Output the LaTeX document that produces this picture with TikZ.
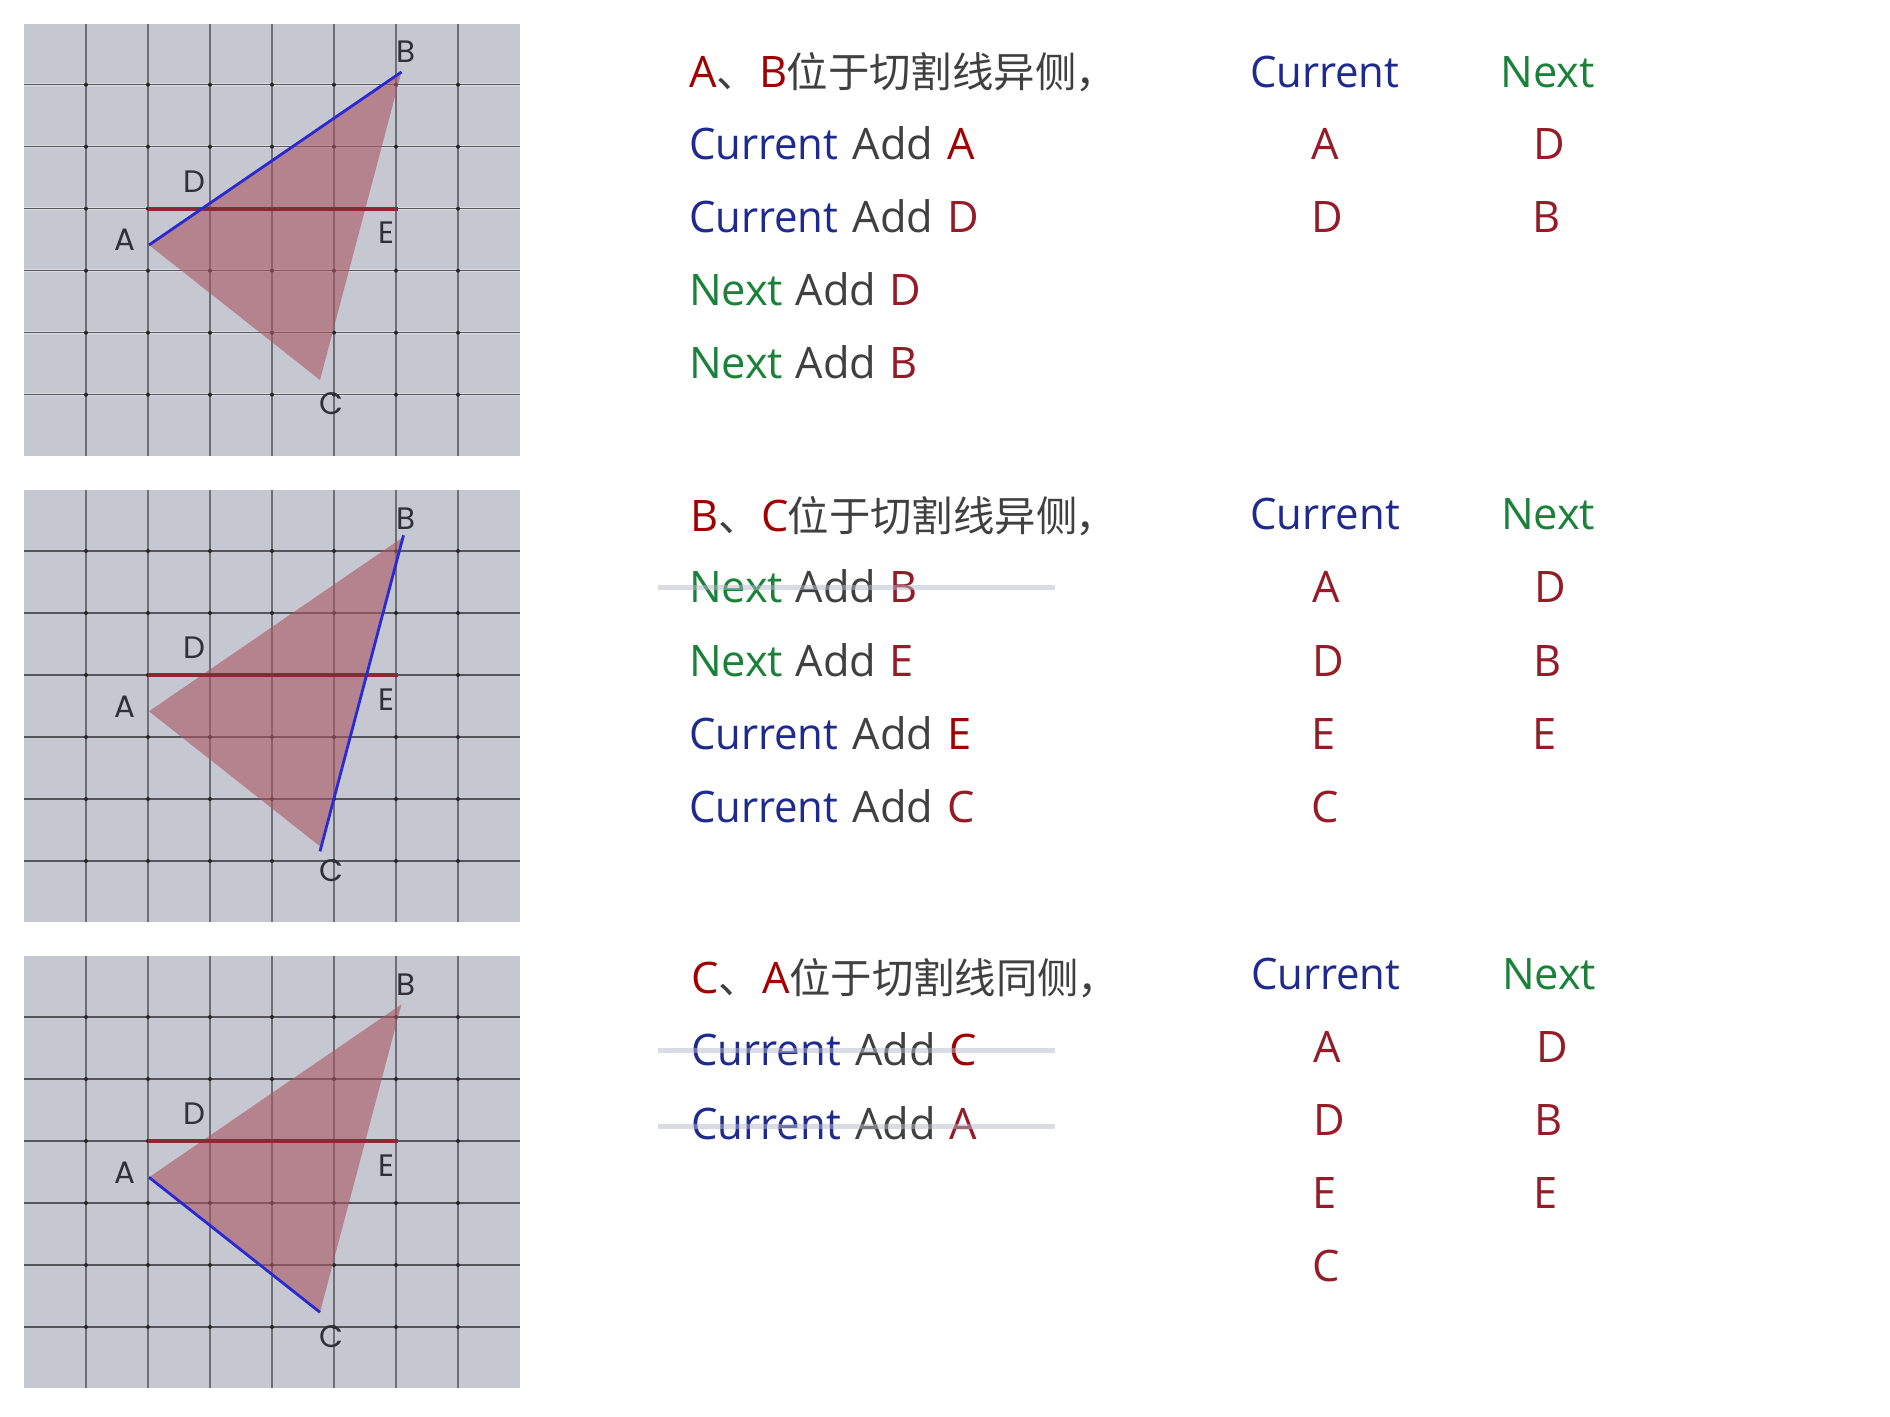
\documentclass[tikz,border=0pt]{standalone}
\usetikzlibrary{calc}
\usepackage{fontspec}
\setmainfont[WordSpace=1.25]{Open Sans}
\newfontfamily\cuf[FakeStretch=0.965,WordSpace=1.25]{Open Sans}
\newfontfamily\cjk{Noto Sans CJK SC}
\newfontfamily\lab{Poppins}
\definecolor{curblue}{HTML}{1F2A8E}
\definecolor{nxtgreen}{HTML}{1A8238}
\definecolor{txtgray}{HTML}{404040}
\definecolor{brightred}{HTML}{A00000}
\definecolor{darkred}{HTML}{951C27}
\definecolor{panelbg}{HTML}{C5C8D0}
\definecolor{gridhalo}{HTML}{DCDDE2}
\definecolor{griddark}{HTML}{55565B}
\definecolor{gridvert}{HTML}{6E6F75}
\definecolor{trifill}{HTML}{A95562}
\definecolor{cutred}{HTML}{8B2A35}
\definecolor{edgeblue}{HTML}{2A2AD2}
\definecolor{strike}{HTML}{B3B7CB}
\definecolor{labgray}{HTML}{2F3038}
\tikzset{
  x=0.5pt,y=-0.5pt,
  txt/.style={anchor=base west,inner sep=0pt,outer sep=0pt,text=txtgray,font=\fontsize{21.7pt}{25pt}\selectfont},
  col/.style={anchor=base,inner sep=0pt,outer sep=0pt,text=darkred,font=\fontsize{21.7pt}{25pt}\selectfont},
  ptlabel/.style={inner sep=0pt,outer sep=0pt,text=labgray,font=\fontsize{15.5pt}{17pt}\selectfont\lab},
  halo/.style={draw=gridhalo,line width=1.4pt},
  gridline/.style={draw=griddark,line width=0.55pt},
  gridvline/.style={draw=gridvert,line width=0.55pt},
  cutline/.style={draw=cutred,line width=2pt},
  edgeline/.style={draw=edgeblue,line width=1.4pt},
  strikeout/.style={draw=strike,line width=2.5pt,opacity=.5},
}
\newcommand{\Cu}{\textcolor{curblue}{\cuf Current}}
\newcommand{\Nx}{\textcolor{nxtgreen}{Next}}
\newcommand{\Br}[1]{\textcolor{brightred}{#1}}
\newcommand{\Dr}[1]{\textcolor{darkred}{#1}}
\newcommand{\Cj}[1]{{\cjk\fontsize{20.7pt}{25pt}\selectfont #1}}
\newcommand{\NxAdd}{\Nx\hspace{-0.8pt} Add\hspace{-0.6pt} }
\newcommand{\panel}[1]{%
  \begin{scope}[shift={(0,#1)}]
    \fill[panelbg] (24,24) rectangle (519.6,455.7);
    \foreach \gx in {86,148,210,272,334,396,458}{
      \draw[halo] (\gx,24) -- (\gx,455.7);
      \draw[gridvline] (\gx,24) -- (\gx,455.7);}
    \foreach \gy in {84.7,146.7,208.7,270.7,332.7,394.7}{
      \draw[halo] (24,\gy) -- (519.6,\gy);
      \draw[gridline] (24,\gy) -- (519.6,\gy);}
    \foreach \gx in {86,148,210,272,334,396,458}
      \foreach \gy in {84.7,146.7,208.7,270.7,332.7,394.7}
        \fill[black!85] (\gx,\gy) circle (1pt);
    \coordinate (pA) at (149,245);
    \coordinate (pB) at (401.5,72);
    \coordinate (pC) at (320,380);
    \coordinate (pD) at (147.5,208.7);
    \coordinate (pE) at (397.5,208.7);
    \fill[trifill,opacity=.6] (pA) -- (pB) -- (pC) -- cycle;
    \draw[cutline] (pD) -- (pE);
    \node[ptlabel] (lA#1) at (124.5,240) {A};
    \node[ptlabel] (lB#1) at (405.5,52) {B};
    \node[ptlabel] (lD#1) at (194,181.5) {D};
    \node[ptlabel] (lE#1) at (386.5,233) {E};
    \node[ptlabel] (lC#1) at (331.5,404) {C};
  \end{scope}}
\begin{document}
\begin{tikzpicture}
\useasboundingbox (0,0) rectangle (1890,1417);
\panel{0}
\draw[edgeline] (pA) -- (pB);
\panel{466.3}
\draw[edgeline] ($(pB)+(2,-3)$) -- ($(pC)+(0,5)$);
\panel{932.3}
\draw[edgeline] (pC) -- (pA);

% group 1
\node[txt] (h1) at (689,87.7) {\Br{A}\Cj{、}\hspace{1pt}\Br{B}\hspace{-0.6pt}\Cj{位于切割线异侧\hspace{-0.8pt}，}};
\node[txt] (r11) at (689,160) {\Cu{} Add \Br{A}};
\node[txt] (r12) at (689,232.9) {\Cu{} Add \Dr{D}};
\node[txt] (r13) at (689,306) {\NxAdd\Dr{D}};
\node[txt] (r14) at (689,379) {\NxAdd\Dr{B}};
\node[txt] (c1) at (1250,87.7) {\Cu};
\node[txt] (n1) at (1500.7,87.7) {\Nx};
\node[col] (c11) at (1325,160) {A};
\node[col] (c12) at (1327.5,232.9) {D};
\node[col] (n11) at (1549.5,160) {D};
\node[col] (n12) at (1546.5,232.9) {B};

% group 2
\node[txt] (h2) at (690,531.5) {\Br{B}\Cj{、}\hspace{1pt}\Br{C}\hspace{-0.6pt}\Cj{位于切割线异侧\hspace{-0.8pt}，}};
\node[txt] (r21) at (689,602.7) {\NxAdd\Dr{B}};
\node[txt] (r22) at (689,676) {\NxAdd\Dr{E}};
\node[txt] (r23) at (689,749) {\Cu{} Add \Br{E}};
\node[txt] (r24) at (689,822.3) {\Cu{} Add \Dr{C}};
\node[txt] (c2) at (1250.5,530) {\Cu};
\node[txt] (n2) at (1501,530) {\Nx};
\node[col] (c21) at (1326.6,602.7) {A};
\node[col] (c22) at (1328,676) {D};
\node[col] (c23) at (1323.5,749) {E};
\node[col] (c24) at (1325.5,822.3) {C};
\node[col] (n21) at (1550.8,602.7) {D};
\node[col] (n22) at (1547.5,676) {B};
\node[col] (n23) at (1544.5,749) {E};
\draw[strikeout] (658,587) -- (1055,587);

% group 3
\node[txt] (h3) at (691.5,993) {\Br{C}\Cj{、}\hspace{1pt}\Br{A}\hspace{-0.2pt}\Cj{位于切割线同侧\hspace{-0.8pt}，}};
\node[txt] (r31) at (691.5,1065.7) {\Cu{} Add \Br{C}};
\node[txt] (r32) at (691.5,1139) {\Cu{} Add \Dr{A}};
\node[txt] (c3) at (1251,989) {\Cu};
\node[txt] (n3) at (1502,989) {\Nx};
\node[col] (c31) at (1327.5,1062.7) {A};
\node[col] (c32) at (1329,1135) {D};
\node[col] (c33) at (1324.5,1208) {E};
\node[col] (c34) at (1326.5,1281.3) {C};
\node[col] (n31) at (1552,1062.7) {D};
\node[col] (n32) at (1548.5,1135) {B};
\node[col] (n33) at (1545.5,1208) {E};
\draw[strikeout] (658,1050.3) -- (1055,1050.3);
\draw[strikeout] (658,1126.3) -- (1055,1126.3);
\end{tikzpicture}
\end{document}
